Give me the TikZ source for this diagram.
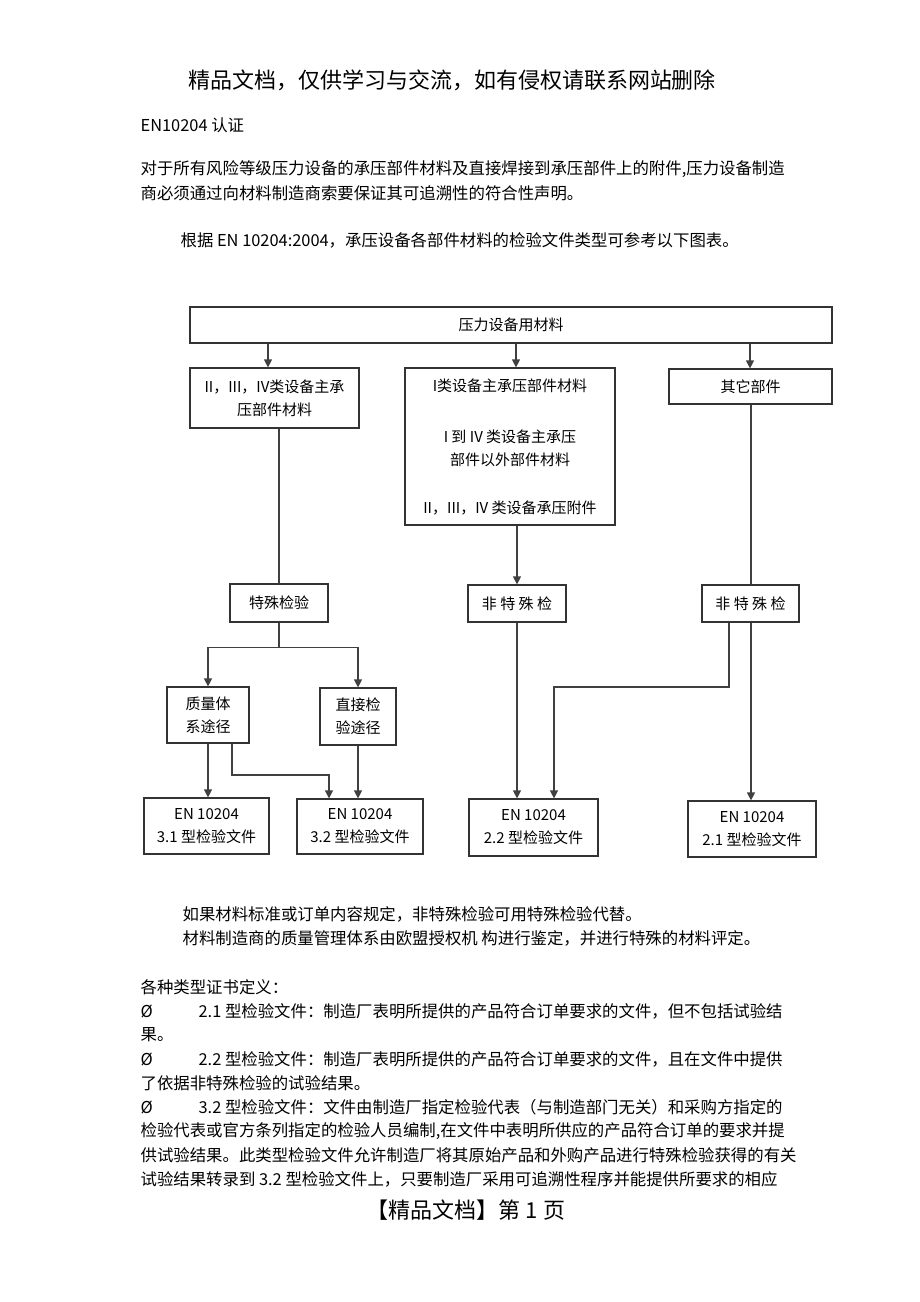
\documentclass[tikz,border=0pt]{standalone}
\usepackage{fontspec}
\setmainfont{Noto Sans CJK SC}
\usetikzlibrary{arrows.meta}

\begin{document}
\begin{tikzpicture}[%
        x = 1pt,
        y = -1pt,
        > = {Triangle[length = 8pt, width = 8pt]},
        line width = 1.2pt,
        box/.style = {draw = black!80, inner sep = 0pt, align = center,
            font = \fontsize{15}{23}\selectfont},
        txt/.style = {anchor = west, inner sep = 0pt,
            font = \fontsize{16.4}{20}\selectfont},
        wire/.style = {draw = black!75}
    ]

        % Page.
        \useasboundingbox (0, 0) rectangle (920, 1302);
        \fill[white] (0, 0) rectangle (920, 1302);

        % Header and text above the chart.
        \node[inner sep = 0pt, font = \fontsize{22}{26}\selectfont] (header) at (452, 80)
            {精品文档，仅供学习与交流，如有侵权请联系网站删除};
        \node[txt] (title) at (140, 125) {EN10204 认证};
        \node[txt] (para1) at (140, 169)
            {对于所有风险等级压力设备的承压部件材料及直接焊接到承压部件上的附件,压力设备制造};
        \node[txt] (para2) at (140, 193)
            {商必须通过向材料制造商索要保证其可追溯性的符合性声明。};
        \node[txt] (intro) at (180, 240)
            {根据 EN 10204:2004，承压设备各部件材料的检验文件类型可参考以下图表。};

        % Boxes.
        \node[box, minimum width = 642pt, minimum height = 36pt] (mat) at (511, 325) {压力设备用材料};
        \node[box, minimum width = 169pt, minimum height = 60pt] (mainpart) at (274.5, 398)
            {II，III，IV类设备主承\\压部件材料};
        \node[box, minimum width = 210pt, minimum height = 157pt] (minorpart) at (510, 446.5)
            {I类设备主承压部件材料\\[28pt]I 到 IV 类设备主承压\\部件以外部件材料\\[25pt]II，III，IV 类设备承压附件};
        \node[box, minimum width = 163pt, minimum height = 35pt] (otherpart) at (750.5, 386.5) {其它部件};

        \node[box, minimum width = 98pt, minimum height = 38pt] (spec) at (279, 603) {特殊检验};
        \node[box, minimum width = 98pt, minimum height = 37pt] (nonspecA) at (517, 603.5) {非 特 殊 检};
        \node[box, minimum width = 97pt, minimum height = 37pt] (nonspecB) at (750.5, 603.5) {非 特 殊 检};

        \node[box, minimum width = 82pt, minimum height = 56pt] (qsys) at (208, 715) {质量体\\系途径};
        \node[box, minimum width = 76pt, minimum height = 57pt] (direct) at (358, 716.5) {直接检\\验途径};

        \node[box, minimum width = 125pt, minimum height = 56pt] (doc31) at (206.5, 826) {EN 10204\\3.1 型检验文件};
        \node[box, minimum width = 126pt, minimum height = 55pt] (doc32) at (360, 826.5) {EN 10204\\3.2 型检验文件};
        \node[box, minimum width = 129pt, minimum height = 57pt] (doc22) at (533.5, 827.5) {EN 10204\\2.2 型检验文件};
        \node[box, minimum width = 128pt, minimum height = 56pt] (doc21) at (752, 829) {EN 10204\\2.1 型检验文件};

        % Connectors.
        \begin{scope}[wire]
            \draw[->] (mat.south -| 268, 0) -- (mainpart.north -| 268, 0);
            \draw[->] (mat.south -| 516, 0) -- (minorpart.north -| 516, 0);
            \draw[->] (mat.south -| 750, 0) -- (otherpart.north -| 750, 0);

            \draw (mainpart.south -| spec.north) -- (spec.north);
            \draw[->] (minorpart.south -| nonspecA.north) -- (nonspecA.north);
            \draw (otherpart.south -| 751, 0) -- (nonspecB.north -| 751, 0);

            \draw[->] (spec.south) -- ++(0, 25) -| (qsys.north);
            \draw[->] (spec.south) ++(0, 25) -| (direct.north);

            \draw[->] (qsys.south) -- (qsys.south |- doc31.north);
            \draw[->] (qsys.south -| 232, 0) -- (232, 775) -| (doc32.north -| 329, 0);
            \draw[->] (direct.south) -- (direct.south |- doc32.north);

            \draw[->] (nonspecA.south) -- (nonspecA.south |- doc22.north);
            \draw[->] (nonspecB.south -| 729, 0) -- (729, 687) -| (doc22.north -| 554, 0);
            \draw[->] (nonspecB.south -| 751, 0) -- (doc21.north -| 751, 0);
        \end{scope}

        % Text below the chart.
        \node[txt] (note1) at (182, 914) {如果材料标准或订单内容规定，非特殊检验可用特殊检验代替。};
        \node[txt] (note2) at (182, 938) {材料制造商的质量管理体系由欧盟授权机 构进行鉴定，并进行特殊的材料评定。};
        \node[txt] (defs) at (140, 987) {各种类型证书定义：};

        \foreach \y in {1011, 1059, 1107}
            \node[txt] (mark\y) at (140, \y) {Ø};
        \node[txt] (def21a) at (198, 1011) {2.1 型检验文件：制造厂表明所提供的产品符合订单要求的文件，但不包括试验结};
        \node[txt] (def21b) at (140, 1035) {果。};
        \node[txt] (def22a) at (198, 1059) {2.2 型检验文件：制造厂表明所提供的产品符合订单要求的文件，且在文件中提供};
        \node[txt] (def22b) at (140, 1083) {了依据非特殊检验的试验结果。};
        \node[txt] (def32a) at (198, 1107) {3.2 型检验文件：文件由制造厂指定检验代表（与制造部门无关）和采购方指定的};
        \node[txt] (def32b) at (140, 1131) {检验代表或官方条列指定的检验人员编制,在文件中表明所供应的产品符合订单的要求并提};
        \node[txt] (def32c) at (140, 1155) {供试验结果。此类型检验文件允许制造厂将其原始产品和外购产品进行特殊检验获得的有关};
        \node[txt] (def32d) at (140, 1179) {试验结果转录到 3.2 型检验文件上，只要制造厂采用可追溯性程序并能提供所要求的相应};

        % Footer.
        \node[inner sep = 0pt, font = \fontsize{22}{26}\selectfont] (footer) at (466, 1210)
            {【精品文档】第 1 页};
    \end{tikzpicture}
\end{document}
